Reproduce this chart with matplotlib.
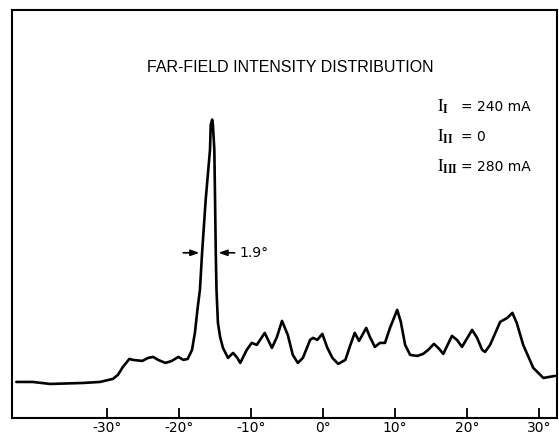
#!/usr/bin/env python3
"""
Far-field intensity distribution trace (redrawn from a scanned figure).
"""

import matplotlib
matplotlib.use("Agg")
import matplotlib.pyplot as plt

# angle in degrees and intensity (arbitrary units)
angle_deg = [-42.6, -40.3, -37.9, -33.3, -31.0, -29.2, -28.5, -27.8, -26.9,
             -26.4, -25.1, -24.3, -23.6, -22.9, -21.9, -21.0, -20.1, -19.4,
             -18.8, -18.2, -17.8, -17.4, -17.1, -16.8, -16.3, -15.7, -15.6,
             -15.4, -15.3, -15.1, -15.0, -14.9, -14.8, -14.6, -14.3, -13.9,
             -13.2, -12.5, -11.9, -11.5, -10.6, -9.9, -9.2, -8.1, -7.1, -6.4,
             -5.7, -4.9, -4.2, -3.5, -2.8, -1.8, -1.4, -0.8, -0.1, 0.6, 1.3,
             2.1, 3.1, 3.8, 4.4, 5.0, 6.0, 6.5, 7.2, 7.9, 8.6, 9.3, 10.3,
             10.8, 11.4, 12.1, 13.1, 13.9, 14.6, 15.4, 16.0, 16.7, 17.9,
             18.6, 19.3, 20.7, 21.4, 22.1, 22.5, 23.2, 24.6, 25.6, 26.3,
             26.9, 27.8, 29.2, 30.6, 32.2]
intensity = [36, 36, 34, 35, 36, 39, 43, 51, 59, 58, 57, 60, 61, 58, 55, 57,
             61, 58, 59, 68, 85, 111, 128, 165, 218, 268, 293, 298, 293, 268,
             218, 165, 128, 95, 81, 70, 60, 65, 60, 55, 68, 75, 73, 85, 70,
             81, 97, 83, 63, 55, 60, 78, 80, 78, 84, 70, 60, 54, 58, 73, 85,
             77, 90, 81, 71, 75, 75, 90, 108, 96, 73, 63, 62, 64, 68, 74, 70,
             64, 82, 78, 71, 88, 80, 68, 66, 73, 96, 100, 105, 95, 73, 50,
             40, 42]

tick_deg = [-30, -20, -10, 0, 10, 20, 30]
tick_labels = ["-30°", "-20°", "-10°", "0°", "10°", "20°", "30°"]

# half-maximum width markers around the main lobe
fwhm_left, fwhm_right, fwhm_level = -16.8, -14.9, 165
currents = [("I", "240 mA"), ("II", "0"), ("III", "280 mA")]

plt.rcParams["mathtext.fontset"] = "stix"

fig = plt.figure(figsize=(5.59, 4.37), dpi=100)
ax = fig.add_axes([0.0215, 0.0435, 0.975, 0.9325])

ax.plot(angle_deg, intensity, color="black", linewidth=1.9,
        solid_joinstyle="round", solid_capstyle="round")

ax.set_xlim(-43.2, 32.5)
ax.set_ylim(0, 407)
ax.set_yticks([])
ax.set_xticks(tick_deg)
ax.set_xticklabels(tick_labels, fontsize=10, family="DejaVu Sans")
ax.tick_params(axis="x", direction="in", length=7, width=1.3, pad=2)
for side in ax.spines.values():
    side.set_linewidth(1.5)

ax.text(-4.6, 350, "FAR-FIELD INTENSITY DISTRIBUTION", ha="center",
        va="center", fontsize=11.5, family="Liberation Sans")

# current labels on the right
for i, (sub, val) in enumerate(currents):
    y = 311 - i * 30
    ax.text(15.8, y, r"$\mathrm{I}_{\mathbf{%s}}$" % sub, ha="left",
            va="center", fontsize=12)
    ax.text(19.2, y, "= " + val, ha="left", va="center", fontsize=10,
            family="DejaVu Sans")

# arrows pointing in to the peak edges
ax.annotate("", xy=(fwhm_left, fwhm_level), xytext=(fwhm_left - 3.0, fwhm_level),
            arrowprops=dict(arrowstyle="-|>,head_width=0.18,head_length=0.5",
                            color="black", lw=1.2))
ax.annotate("", xy=(fwhm_right, fwhm_level), xytext=(fwhm_right + 3.0, fwhm_level),
            arrowprops=dict(arrowstyle="-|>,head_width=0.18,head_length=0.5",
                            color="black", lw=1.2))
ax.text(fwhm_right + 3.3, fwhm_level, "1.9°", ha="left", va="center",
        fontsize=10, family="DejaVu Sans")

fig.savefig("out.png", dpi=100, facecolor="white")
